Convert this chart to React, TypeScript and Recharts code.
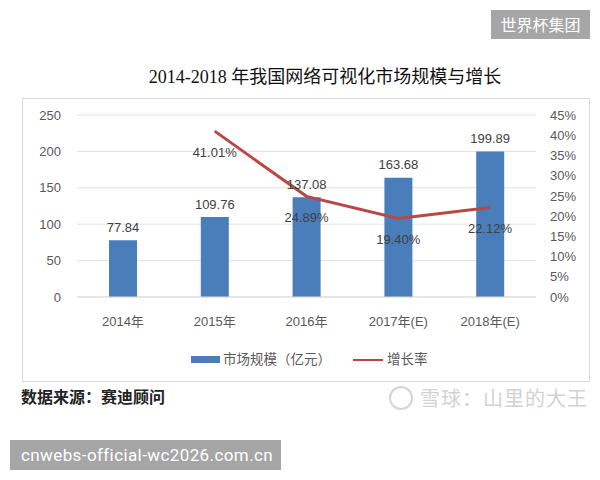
import React from 'react';
import { ComposedChart, Bar, Line, XAxis, YAxis, CartesianGrid, LabelList } from 'recharts';

const categories = ['2014年', '2015年', '2016年', '2017年(E)', '2018年(E)'];
const marketSize = [77.84, 109.76, 137.08, 163.68, 199.89];
const growthRate: (number | null)[] = [null, 0.4101, 0.2489, 0.194, 0.2212];
const leftTicks = [0, 50, 100, 150, 200, 250];
const rightTicks = [0, 0.05, 0.1, 0.15, 0.2, 0.25, 0.3, 0.35, 0.4, 0.45];

const data = categories.map((c, i) => ({ name: c, size: marketSize[i], rate: growthRate[i] }));

const BAR = '#4A7EBB';
const LINE = '#B84845';
const FONT = "'Liberation Sans', 'Noto Sans CJK SC', sans-serif";
const TXT = '#595959';

const BarLabel = (props: any) => {
  const { x, y, width, value } = props;
  if (value == null) return null;
  return (
    <text x={Number(x) + Number(width) / 2} y={Number(y) - 13} textAnchor="middle" dominantBaseline="central"
      fontSize={13} fontFamily={FONT} fill="#404040">{Number(value).toFixed(2)}</text>
  );
};

const RateLabel = (props: any) => {
  const { x, y, value } = props;
  if (value == null || x == null || y == null) return null;
  return (
    <text x={Number(x)} y={Number(y) + 21} textAnchor="middle" dominantBaseline="central"
      fontSize={13} fontFamily={FONT} fill="#404040">{(Number(value) * 100).toFixed(2)}%</text>
  );
};

export default function App() {
  return (
    <div style={{ position: 'absolute', left: 0, top: 0, width: 600, height: 480, background: '#fff', overflow: 'hidden' }}>
      <div style={{ position: 'absolute', left: 491, top: 10, width: 99, height: 29, background: '#a6a6a6', color: '#fff',
        fontFamily: "'Noto Sans CJK SC', sans-serif", fontSize: 16, lineHeight: '29px', textAlign: 'center' }}>世界杯集团</div>
      <div style={{ position: 'absolute', left: 125, top: 65, width: 400, height: 24, lineHeight: '24px', textAlign: 'center',
        fontFamily: "'Liberation Serif', 'Noto Sans CJK SC', serif", fontSize: 18, fontWeight: 'normal', color: '#111' }}>
        2014-2018 年我国网络可视化市场规模与增长</div>
      <div style={{ position: 'absolute', left: 22, top: 98, width: 568, height: 284, border: '1px solid #dadada', boxSizing: 'border-box' }} />
      <div style={{ position: 'absolute', left: 0, top: 0 }}>
        <ComposedChart width={600} height={480} data={data} margin={{ top: 115, right: 14, bottom: 153, left: 17 }}>
          <CartesianGrid yAxisId="left" vertical={false} stroke="#e2e2e2" />
          <XAxis dataKey="name" tickLine={false} axisLine={{ stroke: '#d9d9d9' }} height={30} tickMargin={14}
            tick={{ fontSize: 13, fontFamily: FONT, fill: TXT }} interval={0} />
          <YAxis yAxisId="left" domain={[0, 250]} ticks={leftTicks} interval={0} width={60} tickLine={false} axisLine={false}
            tickMargin={10} tick={{ fontSize: 13, fontFamily: FONT, fill: TXT }} />
          <YAxis yAxisId="right" orientation="right" domain={[0, 0.45]} ticks={rightTicks} interval={0} width={50} tickLine={false}
            axisLine={false} tickMargin={8} tick={{ fontSize: 13, fontFamily: FONT, fill: TXT, textAnchor: 'start' }}
            tickFormatter={(v: number) => `${Math.round(v * 100)}%`} />
          <Bar yAxisId="left" dataKey="size" fill={BAR} barSize={28} isAnimationActive={false}>
            <LabelList dataKey="size" content={BarLabel} />
          </Bar>
          <Line yAxisId="right" dataKey="rate" stroke={LINE} strokeWidth={3} dot={false} type="linear" isAnimationActive={false}>
            <LabelList dataKey="rate" content={RateLabel} />
          </Line>
        </ComposedChart>
      </div>
      <div style={{ position: 'absolute', left: 191, top: 356, width: 29, height: 7, background: BAR }} />
      <div style={{ position: 'absolute', left: 223, top: 351, height: 18, lineHeight: '18px', fontSize: 13.5, fontFamily: FONT, color: TXT, whiteSpace: 'nowrap' }}>市场规模（亿元）</div>
      <div style={{ position: 'absolute', left: 353, top: 359, width: 30, height: 2, background: LINE }} />
      <div style={{ position: 'absolute', left: 387, top: 351, height: 18, lineHeight: '18px', fontSize: 13.5, fontFamily: FONT, color: TXT, whiteSpace: 'nowrap' }}>增长率</div>
      <div style={{ position: 'absolute', left: 21, top: 388, height: 20, lineHeight: '20px', fontSize: 16, fontWeight: 'bold',
        fontFamily: "'Liberation Serif', 'Noto Sans CJK SC', serif", color: '#222', whiteSpace: 'nowrap' }}>数据来源：赛迪顾问</div>
      <div style={{ position: 'absolute', left: 389, top: 386, width: 20, height: 20, borderRadius: '50%', border: '2px solid #d4d4d4' }} />
      <div style={{ position: 'absolute', left: 420, top: 385, height: 26, lineHeight: '26px', fontSize: 20, letterSpacing: 1,
        fontFamily: "'Noto Sans CJK SC', sans-serif", color: '#d2d2d2', whiteSpace: 'nowrap' }}>雪球：山里的大王</div>
      <div style={{ position: 'absolute', left: 10, top: 440, width: 271, height: 30, background: '#a6a6a6', color: '#fff',
        fontFamily: "Roboto, sans-serif", fontSize: 17, letterSpacing: 0.4, lineHeight: '30px', paddingLeft: 11, boxSizing: 'border-box', whiteSpace: 'nowrap' }}>
        cnwebs-official-wc2026.com.cn</div>
    </div>
  );
}
